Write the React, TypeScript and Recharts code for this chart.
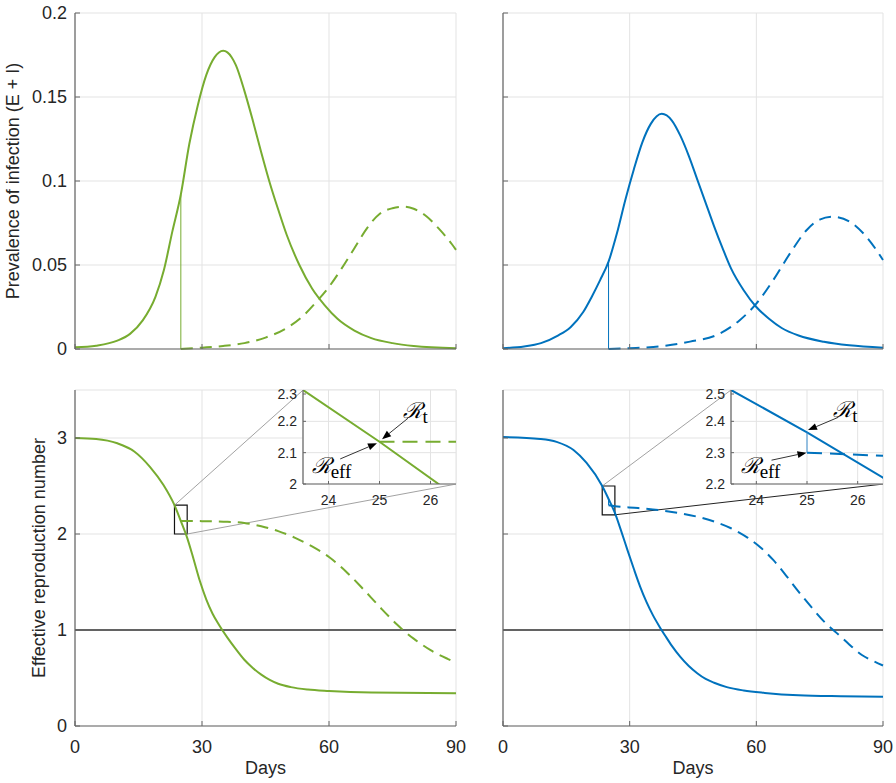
import React from "react";
import {
  CartesianGrid,
  Line,
  LineChart,
  ReferenceArea,
  ReferenceDot,
  ReferenceLine,
  XAxis,
  YAxis,
} from "recharts";

const GREEN = "#77ac30";
const BLUE = "#0072bd";
const AXIS = "#666666";
const GRID = "#e3e3e3";
const TEXT = "#262626";
const FONT = "'Liberation Sans', Arial, Helvetica, sans-serif";

// axes
const dayTicks = [0, 30, 60, 90];
const prevTicks = [0, 0.05, 0.1, 0.15, 0.2];
const rTicks = [0, 1, 2, 3];
const zoomDayTicks = [24, 25, 26];
const zoomTicksG = [2, 2.1, 2.2, 2.3];
const zoomTicksB = [2.2, 2.3, 2.4, 2.5];
const zoomDays = [23.5, 26.5];
const zoomRangeG = [2, 2.3];
const zoomRangeB = [2.2, 2.5];
const threshold = 1;

// prevalence, green scenario
const prevDaysG = [0, 5, 10, 13, 16, 19, 21, 23, 25, 27, 29, 31, 33, 34, 35, 36, 37, 38, 40, 42, 44, 46, 48, 50, 53, 56, 59, 62, 66, 70, 75, 80, 90];
const prevSolidG = [0.001, 0.002, 0.005, 0.009, 0.017, 0.031, 0.047, 0.07, 0.092, 0.122, 0.145, 0.163, 0.1737, 0.1765, 0.1775, 0.1766, 0.1737, 0.169, 0.1538, 0.136, 0.117, 0.099, 0.083, 0.068, 0.05, 0.036, 0.026, 0.018, 0.011, 0.0065, 0.0035, 0.0018, 0.0005];
const prevDashDaysG = [25, 30, 35, 40, 45, 50, 54, 57, 60, 63, 66, 69, 72, 75, 77.5, 80, 83, 86, 89, 90];
const prevDashG = [0, 0.0008, 0.0018, 0.0035, 0.0068, 0.0125, 0.02, 0.028, 0.037, 0.048, 0.06, 0.072, 0.0805, 0.0838, 0.0847, 0.0835, 0.079, 0.0715, 0.0625, 0.059];

// prevalence, blue scenario
const prevDaysB = [0, 5, 9, 13, 16, 19, 21, 23, 25, 27, 29, 31, 33, 35, 37.6, 40, 42, 44, 46, 48, 50, 52, 54, 57, 60, 63, 66, 70, 76, 82, 90];
const prevSolidB = [0.0005, 0.0015, 0.0035, 0.008, 0.013, 0.022, 0.031, 0.041, 0.052, 0.069, 0.089, 0.107, 0.123, 0.134, 0.14, 0.136, 0.127, 0.115, 0.101, 0.087, 0.073, 0.06, 0.048, 0.035, 0.025, 0.018, 0.0125, 0.008, 0.0043, 0.0022, 0.0008];
const prevDashDaysB = [25, 30, 35.6, 40, 44.3, 50.6, 56, 60, 64, 68, 72, 75, 78.2, 82.2, 86, 90];
const prevDashB = [0, 0.0005, 0.0012, 0.0025, 0.0044, 0.0083, 0.017, 0.027, 0.041, 0.057, 0.071, 0.077, 0.0787, 0.0757, 0.067, 0.053];

// reproduction number, green
const rDaysG = [0, 5, 10, 14, 17.7, 20.9, 23.5, 25, 26.5, 28, 29.5, 31, 32.5, 34, 36, 38, 40, 42, 44, 46, 48, 51, 55, 60, 70, 90];
const rSolidG = [3, 2.99, 2.945, 2.86, 2.7, 2.51, 2.3, 2.135, 1.96, 1.74, 1.51, 1.32, 1.17, 1.055, 0.92, 0.8, 0.69, 0.605, 0.535, 0.48, 0.44, 0.405, 0.38, 0.365, 0.348, 0.34];
const rDashDaysG = [25, 26.5, 30, 36, 40, 44, 48, 52, 56, 60, 64, 68, 72, 76, 78, 80, 84, 88, 90];
const rDashG = [2.135, 2.135, 2.134, 2.127, 2.115, 2.08, 2.03, 1.96, 1.87, 1.76, 1.61, 1.43, 1.24, 1.06, 0.98, 0.91, 0.79, 0.7, 0.66];

// reproduction number, blue
const rDaysB = [0, 8.8, 12.7, 16.7, 19.8, 23.5, 25, 26.5, 28, 29.5, 31, 32.5, 34, 35.5, 37, 38.5, 40, 42, 44, 46, 48, 50, 53, 57, 62, 70, 80, 90];
const rSolidB = [3.01, 2.99, 2.96, 2.875, 2.74, 2.5, 2.365, 2.22, 2.03, 1.83, 1.635, 1.45, 1.29, 1.155, 1.04, 0.935, 0.835, 0.72, 0.625, 0.55, 0.49, 0.45, 0.405, 0.37, 0.345, 0.32, 0.31, 0.305];
const rDashDaysB = [25, 26.5, 32, 40, 46, 50, 54, 58, 61, 64, 67, 70, 73, 76, 79, 82, 85, 88, 90];
const rDashB = [2.3, 2.29, 2.27, 2.23, 2.18, 2.13, 2.06, 1.96, 1.86, 1.73, 1.57, 1.4, 1.24, 1.09, 0.97, 0.85, 0.74, 0.67, 0.63];

// switch at day 25
const jumpDays = [25, 25];
const jumpPrevG = [0.092, 0];
const jumpPrevB = [0.052, 0];
const jumpRB = [2.365, 2.3];

type Pt = { x: number; y: number };
const pts = (xs: number[], ys: number[]): Pt[] => xs.map((x, i) => ({ x, y: ys[i] }));

function curve(key: string, data: Pt[], color: string, opts: { dash?: string; w?: number; type?: any } = {}) {
  return (
    <Line
      key={key}
      data={data}
      dataKey="y"
      type={opts.type ?? "monotone"}
      stroke={color}
      strokeWidth={opts.w ?? 2}
      strokeDasharray={opts.dash}
      dot={false}
      activeDot={false}
      isAnimationActive={false}
    />
  );
}

function xTick(lift: number, size: number, show: boolean, len: number) {
  return (p: any) => {
    const axisY = p.y - lift;
    return (
      <g>
        <line x1={p.x} x2={p.x} y1={axisY} y2={axisY - len} stroke={AXIS} strokeWidth={1} />
        {show && (
          <text x={p.x} y={p.y} dy="0.71em" textAnchor="middle" fontSize={size} fill={TEXT} fontFamily={FONT}>
            {p.payload.value}
          </text>
        )}
      </g>
    );
  };
}

function yTick(gap: number, size: number, show: boolean, len: number) {
  return (p: any) => {
    const axisX = p.x + gap;
    return (
      <g>
        <line x1={axisX} x2={axisX + len} y1={p.y} y2={p.y} stroke={AXIS} strokeWidth={1} />
        {show && (
          <text x={p.x} y={p.y} dy="0.35em" textAnchor="end" fontSize={size} fill={TEXT} fontFamily={FONT}>
            {p.payload.value}
          </text>
        )}
      </g>
    );
  };
}

function Arrow(p: any) {
  const { x1, y1, x2, y2 } = p;
  const a = Math.atan2(y2 - y1, x2 - x1);
  const L = 9;
  const W = 3.5;
  const bx = x2 - L * Math.cos(a);
  const by = y2 - L * Math.sin(a);
  const s = Math.sin(a);
  const c = Math.cos(a);
  return (
    <g>
      <line x1={x1} y1={y1} x2={bx} y2={by} stroke="#000" strokeWidth={0.8} />
      <polygon points={`${x2},${y2} ${bx - W * s},${by + W * c} ${bx + W * s},${by - W * c}`} fill="#000" />
    </g>
  );
}

const rLabel = (sub: string) => (p: any) => (
  <text x={p.cx} y={p.cy} fill="#000">
    <tspan fontFamily="'DejaVu Serif', serif" fontSize={22} fontStyle="italic">ℛ</tspan>
    <tspan fontFamily="'Liberation Serif', serif" fontSize={19} dy={5}>{sub}</tspan>
  </text>
);

type PanelProps = {
  left: number;
  top: number;
  width: number;
  height: number;
  marginTop: number;
  marginRight: number;
  yWidth: number;
  xHeight: number;
  yDomain: number[];
  yTicks: number[];
  showX: boolean;
  showY: boolean;
  yLabel?: string;
  yLabelX?: number;
  xLabel?: string;
  children?: React.ReactNode;
};

function Panel(props: PanelProps) {
  return (
    <div style={{ position: "absolute", left: props.left, top: props.top }}>
      <LineChart
        width={props.width}
        height={props.height}
        margin={{ top: props.marginTop, right: props.marginRight, left: 0, bottom: 0 }}
      >
        <CartesianGrid stroke={GRID} strokeWidth={1} />
        <XAxis
          type="number"
          dataKey="x"
          domain={[0, 90]}
          ticks={dayTicks}
          height={props.xHeight}
          axisLine={{ stroke: AXIS, strokeWidth: 1.2 }}
          tickLine={false}
          tickSize={0}
          tickMargin={14}
          tick={xTick(14, 18, props.showX, 5)}
          label={
            props.xLabel
              ? {
                  content: (l: any) => (
                    <text
                      x={l.viewBox.x + l.viewBox.width / 2}
                      y={l.viewBox.y + 48}
                      textAnchor="middle"
                      fontSize={18}
                      fill={TEXT}
                      fontFamily={FONT}
                    >
                      {props.xLabel}
                    </text>
                  ),
                }
              : undefined
          }
        />
        <YAxis
          type="number"
          domain={props.yDomain}
          ticks={props.yTicks}
          width={props.yWidth}
          axisLine={{ stroke: AXIS, strokeWidth: 1.2 }}
          tickLine={false}
          tickSize={0}
          tickMargin={8}
          tick={yTick(8, 18, props.showY, 5)}
          label={
            props.yLabel
              ? {
                  content: (l: any) => {
                    const cx = l.viewBox.x + (props.yLabelX ?? 19);
                    const cy = l.viewBox.y + l.viewBox.height / 2;
                    return (
                      <text
                        x={cx}
                        y={cy}
                        transform={`rotate(-90 ${cx} ${cy})`}
                        textAnchor="middle"
                        fontSize={18}
                        fill={TEXT}
                        fontFamily={FONT}
                      >
                        {props.yLabel}
                      </text>
                    );
                  },
                }
              : undefined
          }
        />
        {props.children}
      </LineChart>
    </div>
  );
}

type InsetProps = {
  left: number;
  width: number;
  yDomain: number[];
  yTicks: number[];
  children?: React.ReactNode;
};

function Inset(props: InsetProps) {
  return (
    <div style={{ position: "absolute", left: props.left, top: 385 }}>
      <LineChart width={props.width} height={127} margin={{ top: 5, right: 4, left: 0, bottom: 0 }}>
        <CartesianGrid stroke={GRID} strokeWidth={1} fill="#ffffff" fillOpacity={1} />
        <XAxis
          type="number"
          dataKey="x"
          domain={zoomDays}
          ticks={zoomDayTicks}
          allowDataOverflow
          height={28}
          axisLine={{ stroke: AXIS, strokeWidth: 1.2 }}
          tickLine={false}
          tickSize={0}
          tickMargin={11}
          tick={xTick(11, 14, true, 3)}
        />
        <YAxis
          type="number"
          domain={props.yDomain}
          ticks={props.yTicks}
          allowDataOverflow
          width={33}
          axisLine={{ stroke: AXIS, strokeWidth: 1.2 }}
          tickLine={false}
          tickSize={0}
          tickMargin={6}
          tick={yTick(6, 14, true, 3)}
        />
        {props.children}
      </LineChart>
    </div>
  );
}

export default function App() {
  return (
    <div style={{ position: "absolute", left: 0, top: 0, width: 896, height: 783, background: "#fff" }}>
      <Panel
        left={0}
        top={0}
        width={470}
        height={372}
        marginTop={13}
        marginRight={14}
        yWidth={75}
        xHeight={23}
        yDomain={[0, 0.2]}
        yTicks={prevTicks}
        showX={false}
        showY
        yLabel="Prevalence of infection (E + I)"
        yLabelX={19}
      >
        {curve("pg", pts(prevDaysG, prevSolidG), GREEN)}
        {curve("pgd", pts(prevDashDaysG, prevDashG), GREEN, { dash: "12 7" })}
        {curve("pgj", pts(jumpDays, jumpPrevG), GREEN, { w: 1, type: "linear" })}
      </Panel>

      <Panel
        left={440}
        top={0}
        width={456}
        height={372}
        marginTop={13}
        marginRight={13}
        yWidth={63}
        xHeight={23}
        yDomain={[0, 0.2]}
        yTicks={prevTicks}
        showX={false}
        showY={false}
      >
        {curve("pb", pts(prevDaysB, prevSolidB), BLUE)}
        {curve("pbd", pts(prevDashDaysB, prevDashB), BLUE, { dash: "12 7" })}
        {curve("pbj", pts(jumpDays, jumpPrevB), BLUE, { w: 1, type: "linear" })}
      </Panel>

      <Panel
        left={0}
        top={380}
        width={470}
        height={403}
        marginTop={10}
        marginRight={14}
        yWidth={75}
        xHeight={57}
        yDomain={[0, 3.5]}
        yTicks={rTicks}
        showX
        showY
        yLabel="Effective reproduction number"
        yLabelX={45}
        xLabel="Days"
      >
        <ReferenceLine y={threshold} stroke="#333" strokeWidth={1.5} />
        <ReferenceLine
          segment={[{ x: zoomDays[0], y: zoomRangeG[1] }, { x: 53.9, y: 3.5 }]}
          stroke="#8a8a8a"
          strokeWidth={0.8}
          ifOverflow="visible"
        />
        <ReferenceLine
          segment={[{ x: zoomDays[1], y: zoomRangeG[0] }, { x: 90, y: 2.52 }]}
          stroke="#8a8a8a"
          strokeWidth={0.8}
          ifOverflow="visible"
        />
        {curve("rg", pts(rDaysG, rSolidG), GREEN)}
        {curve("rgd", pts(rDashDaysG, rDashG), GREEN, { dash: "12 7" })}
        <ReferenceArea
          x1={zoomDays[0]}
          x2={zoomDays[1]}
          y1={zoomRangeG[0]}
          y2={zoomRangeG[1]}
          fill="none"
          fillOpacity={0}
          stroke="#111"
          strokeWidth={1.2}
        />
      </Panel>

      <Panel
        left={440}
        top={380}
        width={456}
        height={403}
        marginTop={10}
        marginRight={13}
        yWidth={63}
        xHeight={57}
        yDomain={[0, 3.5]}
        yTicks={rTicks}
        showX
        showY={false}
        xLabel="Days"
      >
        <ReferenceLine y={threshold} stroke="#333" strokeWidth={1.5} />
        <ReferenceLine
          segment={[{ x: zoomDays[0], y: zoomRangeB[1] }, { x: 54, y: 3.5 }]}
          stroke="#8a8a8a"
          strokeWidth={0.8}
          ifOverflow="visible"
        />
        <ReferenceLine
          segment={[{ x: zoomDays[1], y: zoomRangeB[0] }, { x: 90, y: 2.52 }]}
          stroke="#222"
          strokeWidth={1}
          ifOverflow="visible"
        />
        {curve("rb", pts(rDaysB, rSolidB), BLUE)}
        {curve("rbd", pts(rDashDaysB, rDashB), BLUE, { dash: "12 7" })}
        {curve("rbj", pts(jumpDays, jumpRB), BLUE, { w: 1, type: "linear" })}
        <ReferenceArea
          x1={zoomDays[0]}
          x2={zoomDays[1]}
          y1={zoomRangeB[0]}
          y2={zoomRangeB[1]}
          fill="none"
          fillOpacity={0}
          stroke="#111"
          strokeWidth={1.2}
        />
      </Panel>

      <Inset left={270} width={190} yDomain={zoomRangeG} yTicks={zoomTicksG}>
        {curve("ig", pts(rDaysG, rSolidG), GREEN, { type: "linear" })}
        {curve("igd", pts(rDashDaysG, rDashG), GREEN, { type: "linear", dash: "15 8" })}
        <ReferenceLine segment={[{ x: 25.56, y: 2.21 }, { x: 25.05, y: 2.143 }]} shape={Arrow} />
        <ReferenceLine segment={[{ x: 24.23, y: 2.08 }, { x: 24.95, y: 2.13 }]} shape={Arrow} />
        <ReferenceDot x={25.47} y={2.21} shape={rLabel("t")} />
        <ReferenceDot x={23.67} y={2.036} shape={rLabel("eff")} />
      </Inset>

      <Inset left={698} width={189} yDomain={zoomRangeB} yTicks={zoomTicksB}>
        {curve("ib", pts(rDaysB, rSolidB), BLUE, { type: "linear" })}
        {curve("ibd", pts(rDashDaysB, rDashB), BLUE, { type: "linear", dash: "15 8" })}
        {curve("ibj", pts(jumpDays, jumpRB), "#3d8fd0", { w: 1, type: "linear" })}
        <ReferenceLine segment={[{ x: 25.62, y: 2.413 }, { x: 25.02, y: 2.372 }]} shape={Arrow} />
        <ReferenceLine segment={[{ x: 24.3, y: 2.276 }, { x: 24.99, y: 2.3 }]} shape={Arrow} />
        <ReferenceDot x={25.52} y={2.413} shape={rLabel("t")} />
        <ReferenceDot x={23.69} y={2.236} shape={rLabel("eff")} />
      </Inset>
    </div>
  );
}
